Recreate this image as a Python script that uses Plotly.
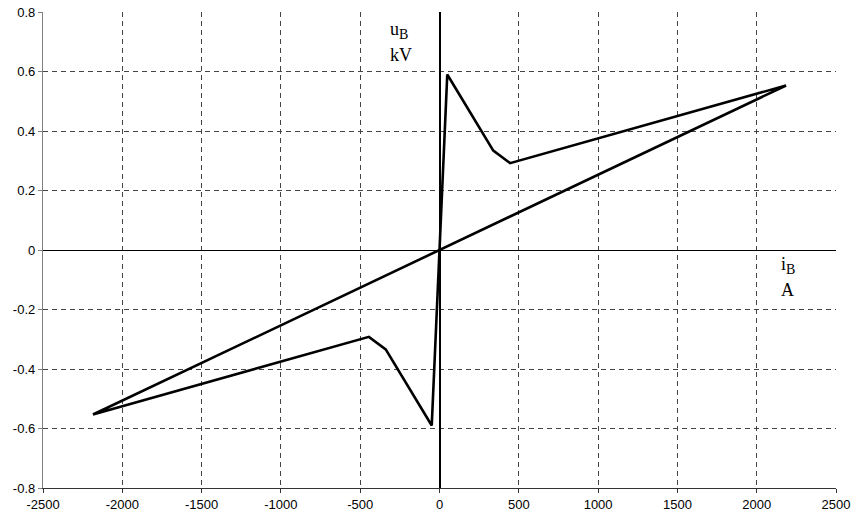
import plotly.graph_objects as go

# Data (current in A, voltage in kV)
i_B = [-2185, 2185, 445, 339, 49, -49, -339, -445, -2185]
u_B = [-0.553, 0.553, 0.292, 0.334, 0.59, -0.59, -0.334, -0.292, -0.553]

x_ticks = [-2500, -2000, -1500, -1000, -500, 0, 500, 1000, 1500, 2000, 2500]
y_ticks = [-0.8, -0.6, -0.4, -0.2, 0, 0.2, 0.4, 0.6, 0.8]
y_tick_text = ["-0.8", "-0.6", "-0.4", "-0.2", "0", "0.2", "0.4", "0.6", "0.8"]

fig = go.Figure()
fig.add_trace(go.Scatter(x=i_B, y=u_B, mode="lines",
                         line=dict(color="black", width=2.6), showlegend=False,
                         hoverinfo="skip"))

tickfont = dict(family="Liberation Sans, Arial, sans-serif", size=13, color="black")
serif = dict(family="Liberation Serif, Times New Roman, serif", size=18, color="black")

fig.update_xaxes(range=[-2500, 2500], tickvals=x_ticks,
                 ticktext=[str(v) for v in x_ticks], automargin=False,
                 showgrid=True, gridcolor="#444", gridwidth=1, griddash="5px,4px",
                 zeroline=True, zerolinecolor="black", zerolinewidth=2,
                 showline=True, linecolor="#333", linewidth=1.3,
                 ticks="outside", ticklen=4, tickcolor="#333", tickfont=tickfont)
fig.update_yaxes(range=[-0.8, 0.8], tickvals=y_ticks, ticktext=y_tick_text,
                 automargin=False,
                 showgrid=True, gridcolor="#444", gridwidth=1, griddash="5px,4px",
                 zeroline=True, zerolinecolor="black", zerolinewidth=1.3,
                 showline=True, linecolor="#808080", linewidth=1.3,
                 ticks="outside", ticklen=4, tickcolor="#808080", tickfont=tickfont)

fig.add_annotation(x=-325, y=0.738, xref="x", yref="y",
                   text="u<sub><span style='font-size:14px'>B</span></sub>",
                   showarrow=False, xanchor="left", yanchor="middle", font=serif)
fig.add_annotation(x=-325, y=0.654, xref="x", yref="y", text="kV",
                   showarrow=False, xanchor="left", yanchor="middle", font=serif)
fig.add_annotation(x=2197, y=-0.052, xref="x", yref="y",
                   text="i<sub><span style='font-size:14px'>B</span></sub>",
                   showarrow=False, xanchor="center", yanchor="middle", font=serif)
fig.add_annotation(x=2197, y=-0.136, xref="x", yref="y", text="A",
                   showarrow=False, xanchor="center", yanchor="middle", font=serif)

fig.update_layout(width=857, height=518,
                  margin=dict(l=43, r=21, t=12, b=30),
                  plot_bgcolor="white", paper_bgcolor="white")

fig.write_html("out.html", config={"displayModeBar": False},
               post_script="document.body.style.margin='0';document.body.style.overflow='hidden';")
